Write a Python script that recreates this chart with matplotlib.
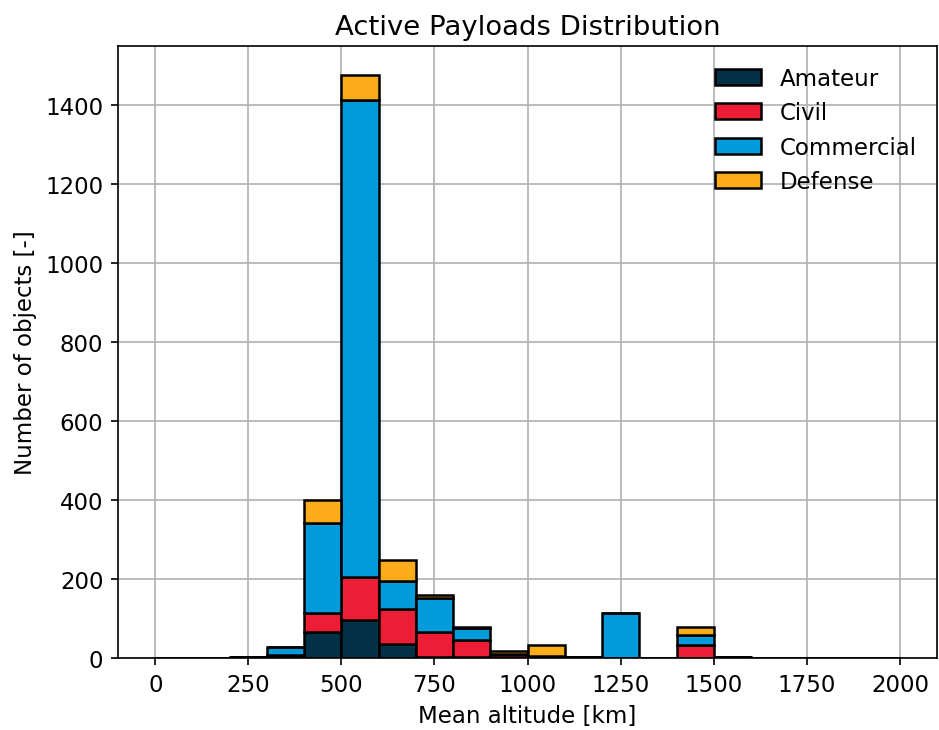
import numpy as np
import matplotlib
matplotlib.use("Agg")
import matplotlib.pyplot as plt

# histogram bins (mean altitude, km)
bin_edges = list(range(0, 2001, 100))

# counts per bin for each category
amateur = [0, 0, 2, 8, 66, 97, 36, 2, 2, 2, 3, 2, 1, 1, 0, 3, 0, 0, 0, 0]
civil = [0, 0, 0, 0, 47, 108, 88, 63, 43, 8, 2, 0, 0, 0, 33, 0, 0, 0, 0, 0]
commercial = [0, 0, 0, 20, 229, 1208, 71, 88, 32, 0, 0, 0, 112, 0, 25, 0, 0, 0, 0, 0]
defense = [0, 0, 0, 0, 58, 63, 52, 7, 2, 8, 28, 0, 0, 0, 20, 0, 0, 0, 0, 0]

labels = ["Amateur", "Civil", "Commercial", "Defense"]
colors = ["#023047", "#ee1d36", "#019bdb", "#fcab19"]


def main():
    plt.rcParams["font.size"] = 11
    centers = [(bin_edges[i] + bin_edges[i + 1]) / 2 for i in range(len(bin_edges) - 1)]

    fig = plt.figure(figsize=(6.26, 4.873), dpi=150)
    ax = fig.add_subplot(1, 1, 1)
    ax.set_axisbelow(True)
    ax.grid(True, color="#b0b0b0", linewidth=0.8)
    ax.hist([centers] * 4, bins=bin_edges,
            weights=[amateur, civil, commercial, defense],
            stacked=True, color=colors, label=labels,
            edgecolor="black", linewidth=1.2)
    ax.set_title("Active Payloads Distribution", fontsize=13.2)
    ax.set_xlabel("Mean altitude [km]")
    ax.set_ylabel("Number of objects [-]")
    ax.legend(loc="upper right", frameon=False)
    fig.subplots_adjust(left=0.1257, right=0.998, top=0.9357, bottom=0.0985)
    fig.savefig("out.png", dpi=150)


if __name__ == "__main__":
    main()
